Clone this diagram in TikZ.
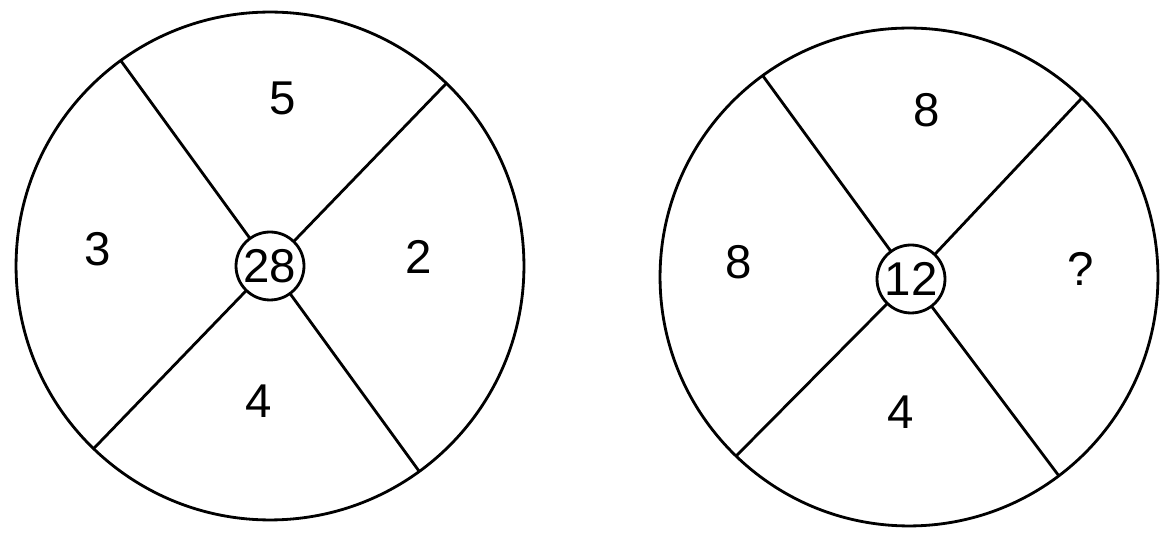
\documentclass[tikz,border=0pt]{standalone}
\usepackage{fontspec}
\setmainfont{Liberation Sans}
\begin{document}
\begin{tikzpicture}[x=0.02cm,y=-0.02cm,line width=1.6pt,
  every node/.style={font=\fontsize{27}{30}\selectfont},
  wheel/.style={draw, circle, inner sep=0pt, outer sep=0pt, minimum size=#1},
  hub/.style={draw, circle, inner sep=0pt, outer sep=0pt, minimum size=1.36cm}]
  \useasboundingbox (0,0) rectangle (1163,536);
  % left wheel
  \node[wheel=10.16cm] (wa) at (270,266) {};
  \node[hub] (ha) at (270,266) {28};
  \draw (ha.126.6) -- (wa.126.6);
  \draw (ha.46) -- (wa.46);
  \draw (ha.226) -- (wa.226);
  \draw (ha.306.6) -- (wa.306.6);
  \node (a5) at (283,98) {5};
  \node (a3) at (98,249) {3};
  \node (a2) at (419,257) {2};
  \node (a4) at (259,401) {4};
  % right wheel
  \node[wheel=9.96cm] (wb) at (909,277) {};
  \node[hub] (hb) at (911,279) {12};
  \draw (hb.126.6) -- (wb.126.6);
  \draw (hb.46) -- (wb.46);
  \draw (hb.226) -- (wb.226);
  \draw (hb.307) -- (wb.307);
  \node (b8t) at (927,110) {8};
  \node (b8l) at (739,262) {8};
  \node (bq) at (1081,269) {?};
  \node (b4) at (901,412) {4};
\end{tikzpicture}
\end{document}
